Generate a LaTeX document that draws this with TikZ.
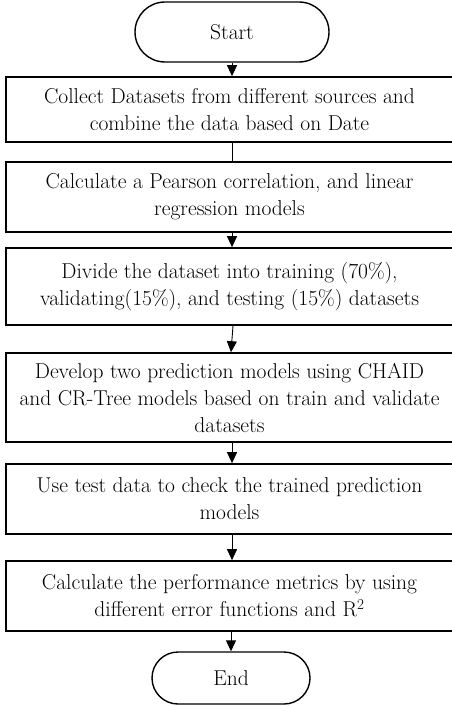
\documentclass[tikz,border=0pt]{standalone}
\usetikzlibrary{arrows.meta,shapes.misc}
\begin{document}
\begin{tikzpicture}[x=1pt,y=-1pt,
  every node/.style={font=\fontsize{21.5}{27}\selectfont, align=center, inner sep=0pt},
  stepbox/.style={draw, line width=1.6pt, minimum width=447pt},
  term/.style={draw, line width=1.4pt, rounded rectangle},
  arr/.style={line width=0.9pt, -{Triangle[length=11pt,width=10pt]}},
  plain/.style={line width=0.9pt}]
\useasboundingbox (0,0) rectangle (451,706);
\node[term, minimum width=194pt, minimum height=60pt] (start) at (232,32) {Start};
\node[stepbox, minimum height=65pt] (b1) at (229.5,109.5) {Collect Datasets from different sources and\\combine the data based on Date};
\node[stepbox, minimum height=70pt] (b2) at (229.5,197) {Calculate a Pearson correlation, and linear\\regression models};
\node[stepbox, minimum height=77pt] (b3) at (229.5,286.5) {Divide the dataset into training (70\%),\\validating(15\%), and testing (15\%) datasets};
\node[stepbox, minimum height=89pt] (b4) at (229.5,397.5) {Develop two prediction models using CHAID\\and CR-Tree models based on train and validate\\datasets};
\node[stepbox, minimum height=70pt] (b5) at (229.5,499) {Use test data to check the trained prediction\\models};
\node[stepbox, minimum height=70pt] (b6) at (229.5,596) {Calculate the performance metrics by using\\different error functions and R\textsuperscript{2}};
\node[term, minimum width=158pt, minimum height=52pt] (end) at (231,678) {End};
\draw[arr] (start.south) -- (start.south |- b1.north);
\draw[plain] (start.south |- b1.south) -- (start.south |- b2.north);
\draw[arr] (start.south |- b2.south) -- (start.south |- b3.north);
\draw[arr] ([xshift=1pt]start.south |- b3.south) -- ([xshift=-1pt]start.south |- b4.north);
\draw[arr] (start.south |- b4.south) -- (start.south |- b5.north);
\draw[arr] (start.south |- b5.south) -- (start.south |- b6.north);
\draw[arr] (end.north |- b6.south) -- (end.north);
\end{tikzpicture}
\end{document}
